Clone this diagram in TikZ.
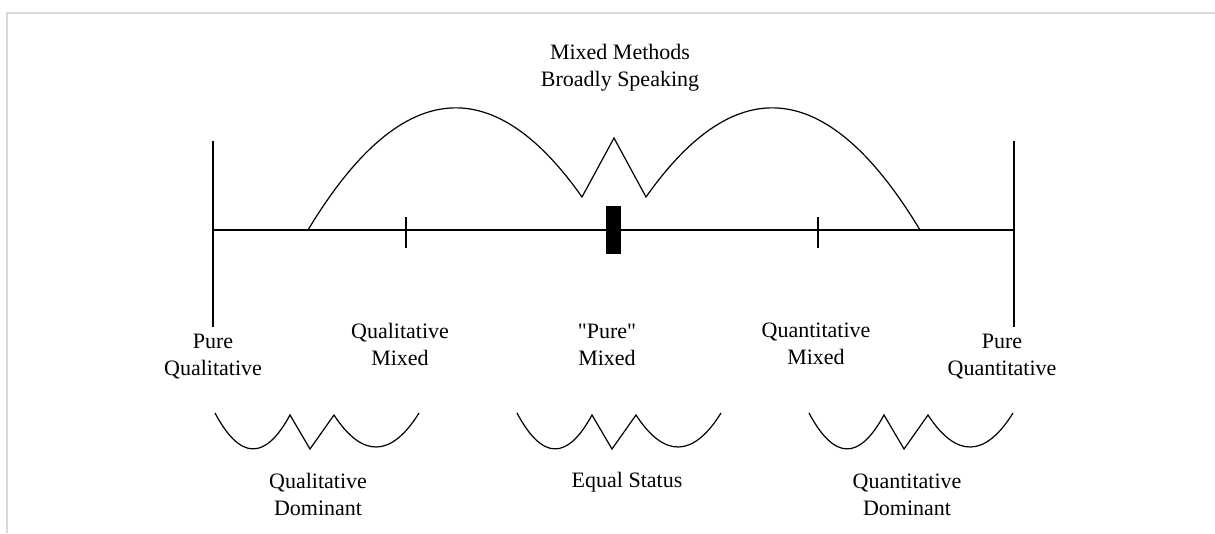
\documentclass[tikz,border=0pt]{standalone}
\usepackage{fontspec}
\setmainfont{Liberation Serif}[Ligatures=TeXOff]
\begin{document}
\begin{tikzpicture}[
  x=1pt, y=-1pt,
  line width=1.2pt,
  label/.style={align=center, font=\fontsize{22}{27}\selectfont, inner sep=0pt},
  frame/.style={draw=black!15, line width=2pt},
  wave/.pic={
    \draw (0,0) .. controls (25,47) and (50,48) .. (75,2) -- (95,36) -- (119,2)
      .. controls (147,45) and (176,45) .. (204,0);
  }
]
\useasboundingbox (0,0) rectangle (1215,533);
\draw[frame] (7,533) -- (7,13) -- (1215,13);

% the continuum
\coordinate (qual) at (213,230);
\coordinate (quan) at (1014,230);
\draw (qual) -- (quan);
\draw (213,141) -- (213,327);
\draw (1014,141) -- (1014,327);
\draw (406,217) -- (406,248);
\draw (818,217) -- (818,248);
\fill (606,206) rectangle (621,254);

% mixed methods arches
\draw (308,230) .. controls (399,79) and (491,68) .. (582,197) -- (614,138) -- (646,197)
  .. controls (737,68) and (829,79) .. (920,230);

\node[label] (mm) at (620,68) {Mixed Methods\\Broadly Speaking};

\node[label] (pql) at (213,357) {Pure\\Qualitative};
\node[label] (qlm) at (400,344) {Qualitative\\Mixed};
\node[label] (pmx) at (607,345) {"Pure"\\Mixed};
\node[label] (qnm) at (816,344) {Quantitative\\Mixed};
\node[label] (pqn) at (1002,357) {Pure\\Quantitative};

% dominance waves
\pic at (215,413) {wave};
\pic at (517,413) {wave};
\pic at (809,413) {wave};

\node[label] (qld) at (318,494) {Qualitative\\Dominant};
\node[label] (eqs) at (627,482) {Equal Status};
\node[label] (qnd) at (907,495) {Quantitative\\Dominant};
\end{tikzpicture}
\end{document}
